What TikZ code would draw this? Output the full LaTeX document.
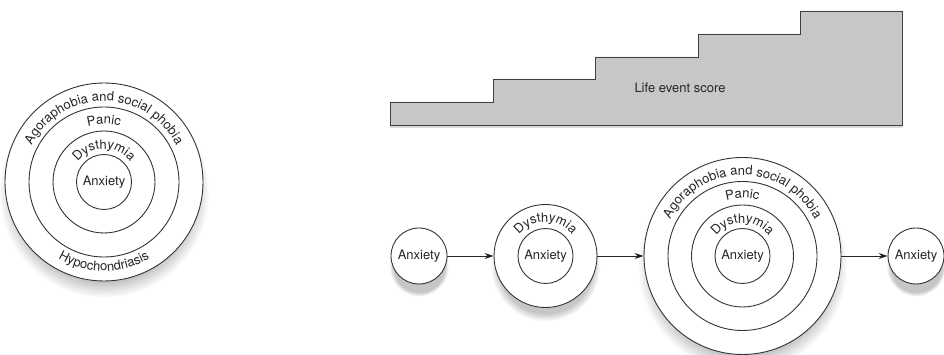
\documentclass[tikz,border=0pt]{standalone}
\usepackage{fontspec}
\setmainfont{TeX Gyre Heros}
\usetikzlibrary{arrows.meta}
\usetikzlibrary{shadows}
\usetikzlibrary{decorations.text}

%% text bent along the top or the bottom of a ring
\newcommand{\toparc}[3]{%
	\path[decorate, decoration={text along path, text align=center,
		text color=black!85, text={|\lbl|#3}}]
		([shift={(180:#2pt)}]#1.center) arc (180:0:#2pt);}
\newcommand{\botarc}[3]{%
	\path[decorate, decoration={text along path, text align=center,
		text color=black!85, text={|\lbl|#3}}]
		([shift={(180:#2pt)}]#1.center) arc (180:360:#2pt);}
\newcommand{\lbl}{\fontsize{13}{15}\selectfont}

\begin{document}
\begin{tikzpicture}[x=1pt, y=1pt,
		ring/.style={circle, draw=black!80, line width=0.9pt, fill=white,
			inner sep=0pt, font=\lbl, text=black!85},
		shade/.style={circular drop shadow={shadow xshift=0pt,
			shadow yshift=-10pt, shadow scale=1.06, opacity=0.45}},
		arr/.style={-{Stealth[length=9pt, width=6pt]}, line width=0.9pt, draw=black!85}]
		\useasboundingbox (0,0) rectangle (944,355);
		%% Left: the nested rings
		\node[ring, shade, minimum size=198pt] (lOut) at (104,173) {};
		\node[ring, minimum size=150pt] (lPan) at (lOut) {};
		\node[ring, minimum size=102pt] (lDys) at (lOut) {};
		\node[ring, minimum size=55pt] (lAnx) at (lOut) {Anxiety};
		\toparc{lOut}{81}{Agoraphobia and social phobia}
		\botarc{lOut}{89}{Hypochondriasis}
		\toparc{lOut}{58}{Panic}
		\toparc{lOut}{33}{Dysthymia}
		%% The stairs
		\draw[draw=black!75, line width=0.9pt, fill=black!22,
			drop shadow={shadow xshift=0pt, shadow yshift=-3pt, opacity=0.3}]
			(390,230) -- (390,253) -- (493,253) -- (493,276) -- (595,276)
			-- (595,298) -- (698,298) -- (698,321) -- (800,321) -- (800,344)
			-- (902,344) -- (902,230) -- cycle;
		\node[font=\lbl, text=black!85] (score) at (680,267) {Life event score};
		%% The chain
		\node[ring, shade, minimum size=56pt] (a1) at (419,99) {Anxiety};
		\node[ring, shade, minimum size=103pt] (bOut) at (545.5,99) {};
		\node[ring, minimum size=55pt] (b1) at (bOut) {Anxiety};
		\toparc{bOut}{34}{Dysthymia}
		\node[ring, shade, minimum size=197pt] (cOut) at (742.5,99) {};
		\node[ring, minimum size=149pt] (cPan) at (cOut) {};
		\node[ring, minimum size=102pt] (cDys) at (cOut) {};
		\node[ring, minimum size=55pt] (c1) at (cOut) {Anxiety};
		\toparc{cOut}{81}{Agoraphobia and social phobia}
		\toparc{cOut}{58}{Panic}
		\toparc{cOut}{33}{Dysthymia}
		\node[ring, shade, minimum size=56pt] (d1) at (916,99) {Anxiety};
		\draw[arr] (a1) -- (bOut);
		\draw[arr] (bOut) -- (cOut);
		\draw[arr] (cOut) -- (d1);
	\end{tikzpicture}
\end{document}
